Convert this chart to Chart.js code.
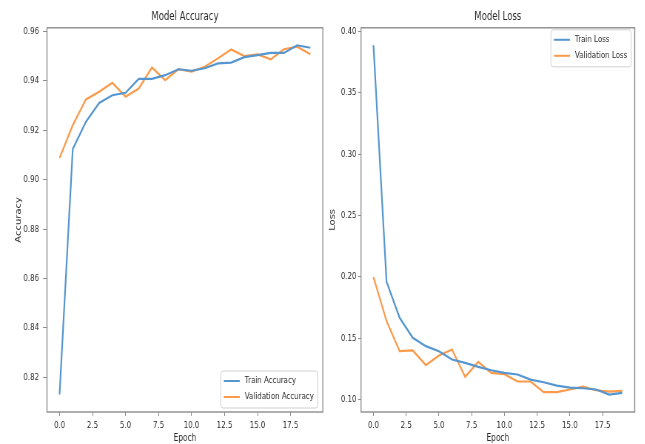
<!DOCTYPE html>
<html>
<head>
<meta charset="utf-8">
<script src="https://cdn.jsdelivr.net/npm/chart.js@4.4.1/dist/chart.umd.min.js"></script>
<style>
  html, body { margin: 0; padding: 0; background: #ffffff; }
  body { width: 645px; height: 444px; position: relative; overflow: hidden; }
  .wrap { position: absolute; top: 0; height: 444px; transform-origin: 0 0; }
</style>
</head>
<body>
<div class="wrap" id="wl"><canvas id="cl"></canvas></div>
<div class="wrap" id="wr"><canvas id="cr"></canvas></div>
<script>
// ---- data ----
const epochs = [0,1,2,3,4,5,6,7,8,9,10,11,12,13,14,15,16,17,18,19];
const trainAccuracy = [0.8131,0.9123,0.9234,0.9310,0.9341,0.9351,0.9407,0.9407,0.9422,0.9446,
                       0.9440,0.9450,0.9470,0.9473,0.9495,0.9503,0.9512,0.9512,0.9543,0.9533];
const valAccuracy   = [0.9087,0.9220,0.9324,0.9355,0.9391,0.9335,0.9368,0.9453,0.9402,0.9446,
                       0.9436,0.9456,0.9490,0.9526,0.9499,0.9506,0.9486,0.9527,0.9537,0.9507];
const trainLoss = [0.3886,0.1960,0.1666,0.1503,0.1435,0.1394,0.1326,0.1299,0.1266,0.1239,
                   0.1217,0.1204,0.1163,0.1141,0.1114,0.1098,0.1092,0.1082,0.1041,0.1054];
const valLoss   = [0.1997,0.1639,0.1394,0.1400,0.1280,0.1359,0.1408,0.1185,0.1307,0.1217,
                   0.1207,0.1147,0.1147,0.1060,0.1060,0.1082,0.1106,0.1076,0.1065,0.1071];
const xTicks = [0,2.5,5,7.5,10,12.5,15,17.5];
const accTicks = [0.82,0.84,0.86,0.88,0.90,0.92,0.94,0.96];
const lossTicks = [0.10,0.15,0.20,0.25,0.30,0.35,0.40];
const accLegend = ['Train Accuracy','Validation Accuracy'];
const lossLegend = ['Train Loss','Validation Loss'];

// ---- styling ----
const K = 0.74; // horizontal squeeze of the reference image
const FONT = "'DejaVu Sans', 'Liberation Sans', sans-serif";
const TXT = '#2b2b2b';
const SPINE = '#8c8c8c';
const BLUE = '#5596cf';
const ORANGE = '#fb9a4b';

function pts(ys){ return epochs.map((e,i)=>({x:e, y:ys[i]})); }
function lims(arrs){
  let mn = Infinity, mx = -Infinity;
  arrs.forEach(a=>a.forEach(v=>{ if(v<mn)mn=v; if(v>mx)mx=v; }));
  const m = (mx-mn)*0.05; return [mn-m, mx+m];
}

const boxPlugin = {
  id: 'box',
  afterDatasetsDraw(chart){
    const {ctx, chartArea:a} = chart;
    ctx.save();
    ctx.strokeStyle = SPINE; ctx.lineWidth = 1.4;
    ctx.strokeRect(a.left, a.top, a.right-a.left, a.bottom-a.top);
    ctx.restore();
  }
};

const legendPlugin = {
  id: 'innerLegend',
  afterDraw(chart, args, o){
    const {ctx, chartArea:a} = chart;
    const ds = chart.data.datasets;
    ctx.save();
    ctx.font = '9.5px ' + FONT;
    let tw = 0; ds.forEach(d=>{ tw = Math.max(tw, ctx.measureText(d.label).width); });
    const padL = 4, line = 21.6, gap = 6.8, padR = 5.4;
    const w = padL + line + gap + tw + padR, h = 37;
    const x = a.right - o.right - w;
    const y = o.pos === 'bottom' ? a.bottom - o.bottom - h : a.top + o.top;
    ctx.fillStyle = 'rgba(255,255,255,0.85)';
    ctx.strokeStyle = '#d0d0d0'; ctx.lineWidth = 1;
    ctx.beginPath();
    if (ctx.roundRect) ctx.roundRect(x, y, w, h, 3); else ctx.rect(x, y, w, h);
    ctx.fill(); ctx.stroke();
    ds.forEach((d,i)=>{
      const cy = y + 10 + i*16;
      ctx.strokeStyle = d.borderColor; ctx.lineWidth = 2;
      ctx.beginPath(); ctx.moveTo(x+padL, cy); ctx.lineTo(x+padL+line, cy); ctx.stroke();
      ctx.fillStyle = TXT; ctx.textBaseline = 'middle'; ctx.textAlign = 'left';
      ctx.fillText(d.label, x+padL+line+gap, cy);
    });
    ctx.restore();
  }
};

function makeChart(canvasId, wrapId, left, finalW, cfg){
  const W = finalW / K;
  const wrap = document.getElementById(wrapId);
  wrap.style.left = left + 'px';
  wrap.style.width = W + 'px';
  wrap.style.transform = 'scaleX(' + K + ')';
  const cv = document.getElementById(canvasId);
  cv.width = Math.round(W); cv.height = 444;
  cv.style.width = Math.round(W) + 'px'; cv.style.height = '444px';
  const [ymin, ymax] = lims(cfg.series);
  return new Chart(cv, {
    type: 'line',
    data: {
      datasets: [
        { label: cfg.labels[0], data: pts(cfg.series[0]), borderColor: BLUE, backgroundColor: BLUE,
          borderWidth: 2.2, pointRadius: 0, tension: 0, fill: false },
        { label: cfg.labels[1], data: pts(cfg.series[1]), borderColor: ORANGE, backgroundColor: ORANGE,
          borderWidth: 2.2, pointRadius: 0, tension: 0, fill: false }
      ]
    },
    options: {
      responsive: false, animation: false, devicePixelRatio: 1,
      layout: { padding: { left: 0, right: cfg.padRight, top: 0, bottom: 0 } },
      plugins: {
        legend: { display: false }, tooltip: { enabled: false },
        title: { display: true, text: cfg.title, color: TXT, fullSize: false,
                 font: { family: FONT, size: 11.5, weight: 'normal' },
                 padding: { top: 10, bottom: 4 } },
        innerLegend: cfg.legend
      },
      scales: {
        x: {
          type: 'linear', min: -0.95, max: 19.95,
          afterBuildTicks: s => { s.ticks = xTicks.map(v=>({value:v})); },
          afterFit: s => { s.height = 444 - 412; },
          grid: { drawOnChartArea: false, drawTicks: true, tickLength: 4, color: SPINE, lineWidth: 1 },
          border: { display: false },
          ticks: { color: TXT, font: { family: FONT, size: 9.5 }, padding: 4.3, maxRotation: 0,
                   autoSkip: false, callback: v => Number(v).toFixed(1) },
          title: { display: true, text: 'Epoch', color: TXT, font: { family: FONT, size: 10 },
                   padding: { top: 0, bottom: 0 } }
        },
        y: {
          type: 'linear', min: ymin, max: ymax,
          afterBuildTicks: s => { s.ticks = cfg.yTicks.map(v=>({value:v})); },
          afterFit: s => { s.width = cfg.yWidth; },
          grid: { drawOnChartArea: false, drawTicks: true, tickLength: cfg.tickLen, color: SPINE, lineWidth: 1 },
          border: { display: false },
          ticks: { color: TXT, font: { family: FONT, size: 9.5 }, padding: cfg.tickPad,
                   autoSkip: false, callback: v => Number(v).toFixed(2) },
          title: { display: true, text: cfg.yTitle, color: TXT, font: { family: FONT, size: 10 },
                   padding: { top: cfg.yTitlePad, bottom: 0 } }
        }
      }
    },
    plugins: [boxPlugin, legendPlugin]
  });
}

makeChart('cl', 'wl', 0, 325, {
  title: 'Model Accuracy', yTitle: 'Accuracy', series: [trainAccuracy, valAccuracy], labels: accLegend,
  yTicks: accTicks, yWidth: 47 / K, padRight: 325/K - 323/K, tickLen: 5.4, tickPad: 5.4, yTitlePad: 19.7,
  legend: { pos: 'bottom', right: 5/K, bottom: 4 }
});
makeChart('cr', 'wr', 325, 320, {
  title: 'Model Loss', yTitle: 'Loss', series: [trainLoss, valLoss], labels: lossLegend,
  yTicks: lossTicks, yWidth: 36 / K, padRight: 320/K - 310/K, tickLen: 4, tickPad: 2, yTitlePad: 4.8,
  legend: { pos: 'top', right: 3.4/K, top: 2 }
});
</script>
</body>
</html>
